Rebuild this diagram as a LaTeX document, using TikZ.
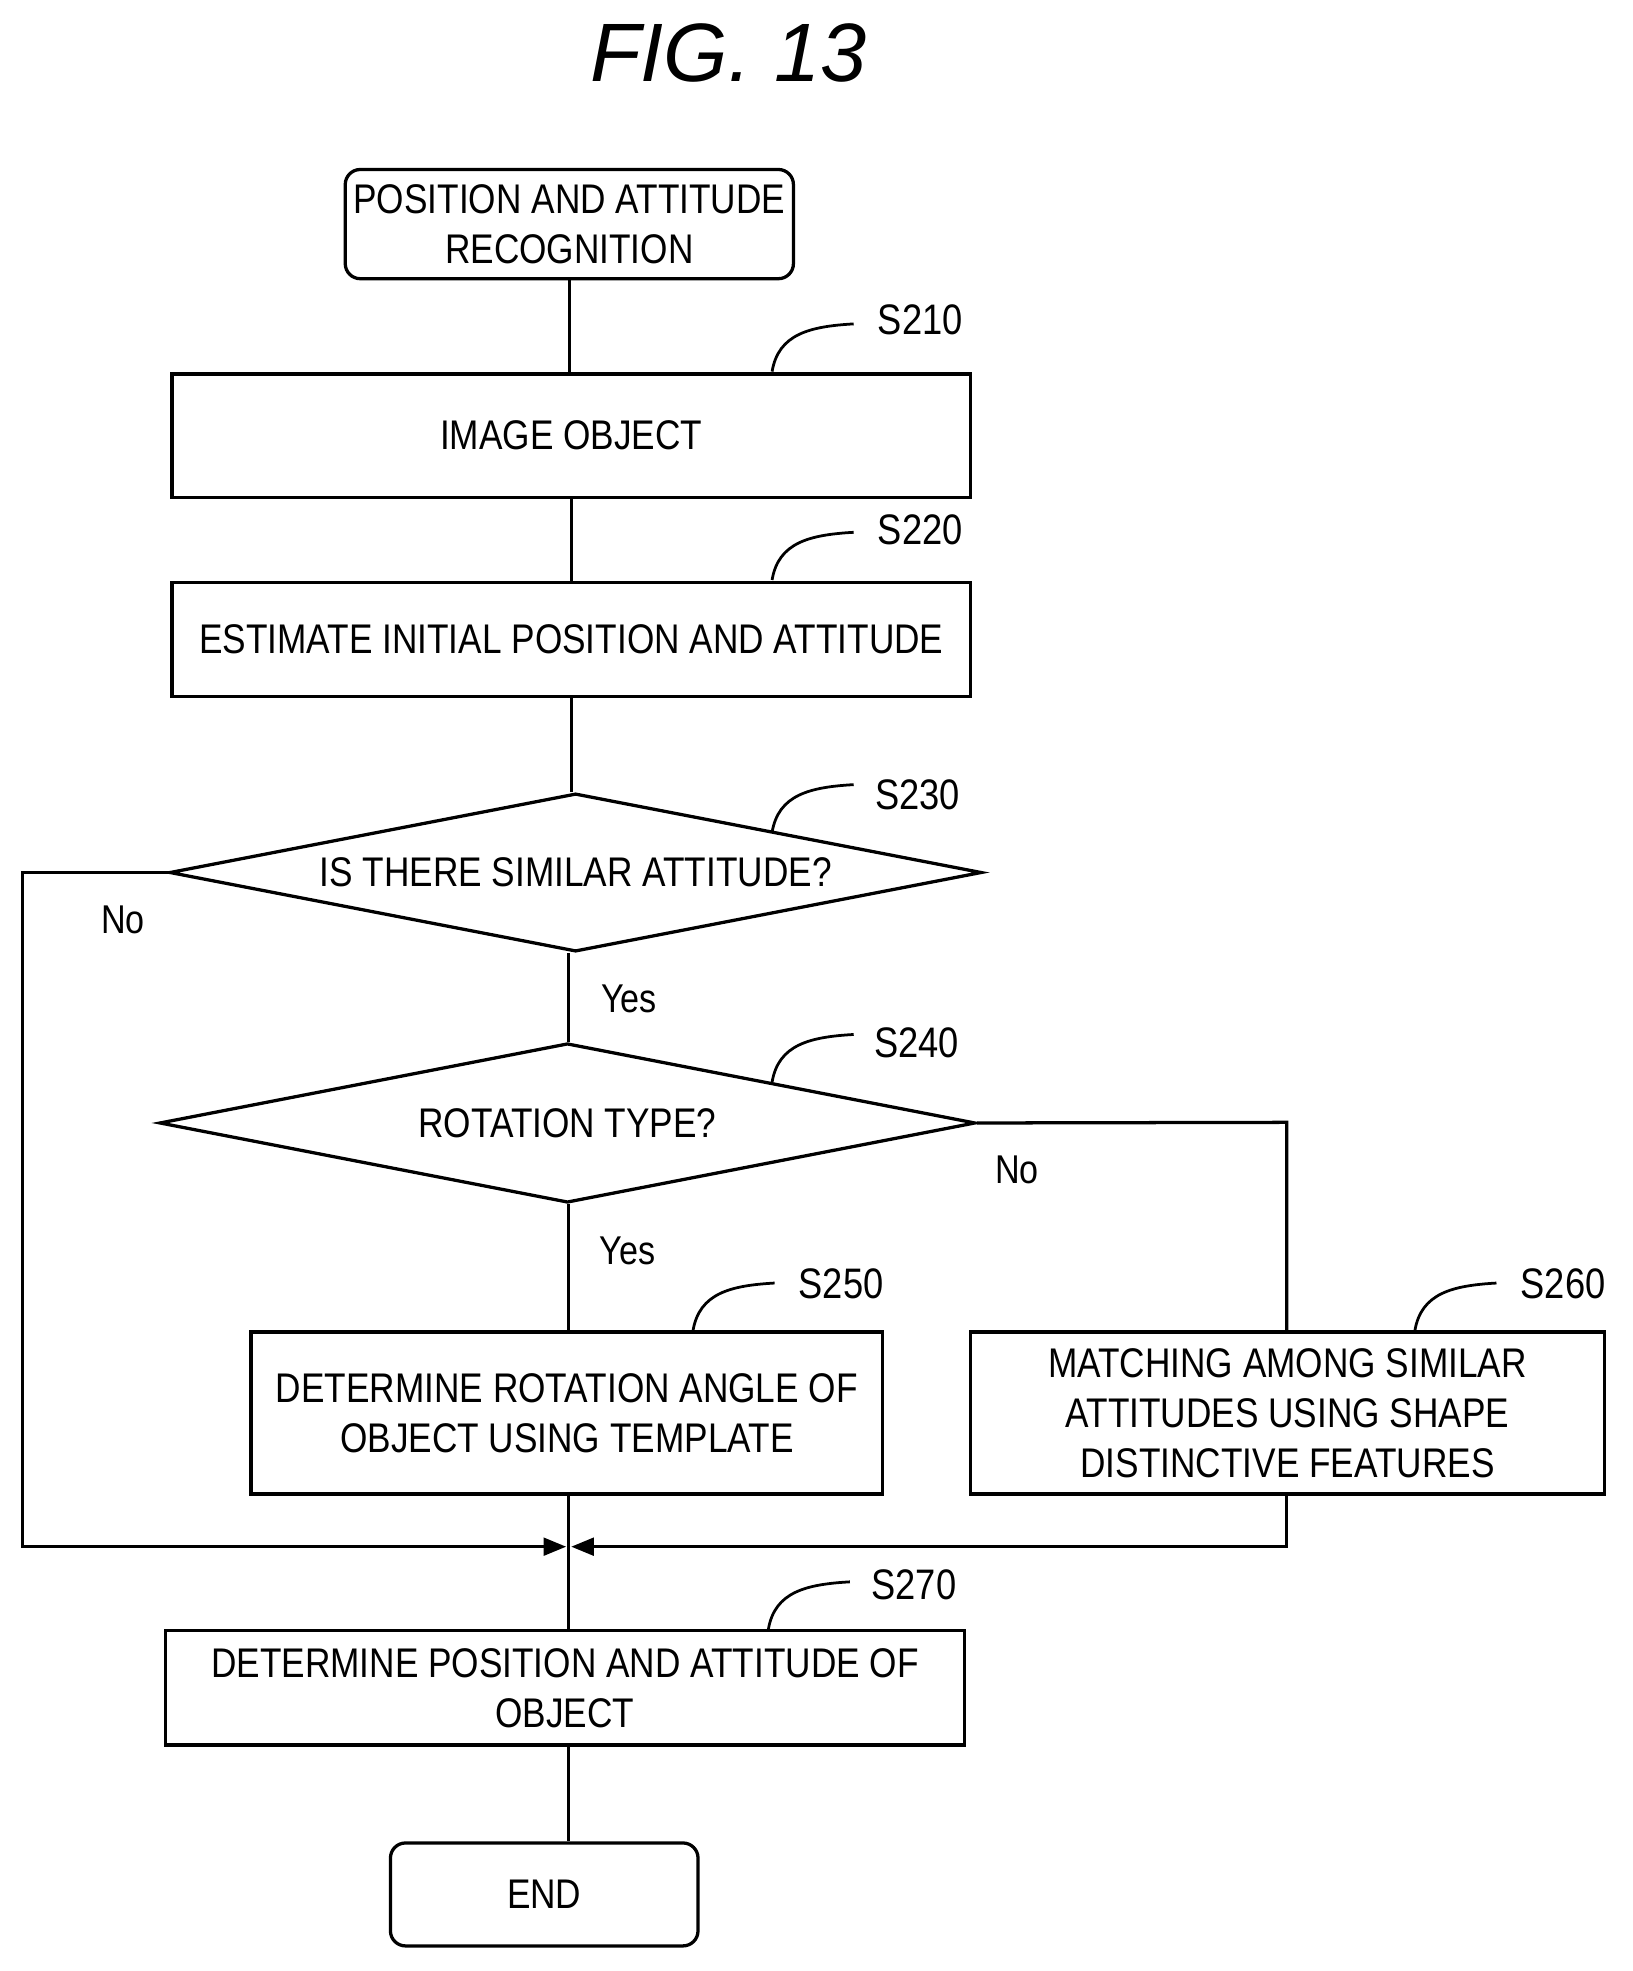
\documentclass[tikz,border=0pt]{standalone}
\usepackage{fontspec}
\setmainfont{Liberation Sans}
\newfontfamily\narrowf[FakeStretch=0.85]{Liberation Sans}
\usetikzlibrary{shapes.geometric,arrows.meta}
\begin{document}
\begin{tikzpicture}[x=1pt,y=-1pt,line width=2.6pt,
  box/.style={draw,rectangle,inner sep=0,align=center,font=\narrowf\fontsize{33}{40}\selectfont},
  term/.style={box,rounded corners=12pt},
  dia/.style={draw,diamond,inner sep=0,label={[font=\narrowf\fontsize{33}{40}\selectfont]center:#1}},
  lab/.style={font=\fontsize{32}{36}\selectfont\narrowf},
  tag/.style={font=\narrowf\fontsize{34}{36}\selectfont},
  arr/.style={-{Triangle[length=18pt,width=14pt]}}]
\useasboundingbox (0,0) rectangle (1300,1570);
\node[font=\itshape\fontsize{66}{70}\selectfont] (title) at (580,42) {FIG. 13};
\node[term,minimum width=357,minimum height=87] (start) at (453.5,178.5) {POSITION AND ATTITUDE\\RECOGNITION};
\node[box,minimum width=636,minimum height=98] (s210) at (455,347) {IMAGE OBJECT};
\node[box,minimum width=636,minimum height=91] (s220) at (455,509.5) {ESTIMATE INITIAL POSITION AND ATTITUDE};
\node[dia={IS THERE SIMILAR ATTITUDE?},minimum width=647,minimum height=126] (s230) at (458.5,695) {};
\node[dia={ROTATION TYPE?},minimum width=650,minimum height=127] (s240) at (452,894.5) {};
\node[box,minimum width=503,minimum height=129] (s250) at (451.5,1125.5) {DETERMINE ROTATION ANGLE OF\\OBJECT USING TEMPLATE};
\node[box,minimum width=505,minimum height=129] (s260) at (1025.5,1125.5) {MATCHING AMONG SIMILAR\\ATTITUDES USING SHAPE\\DISTINCTIVE FEATURES};
\node[box,minimum width=636,minimum height=91] (s270) at (450,1344.5) {DETERMINE POSITION AND ATTITUDE OF\\OBJECT};
\node[term,minimum width=245,minimum height=82] (end) at (433.5,1509) {END};
\coordinate (m) at (453,1232);
\coordinate (ml) at (18,695);
\coordinate (mr) at (1025,894);
\draw (start) -- (start.south |- s210.north);
\draw (s210) -- (s220);
\draw (s220) -- (s230.north -| s220);
\draw (s230.south -| m) -- (s240.north -| m);
\draw (s240.south -| m) -- (s250.north -| m);
\draw (s250.south -| m) -- (s270.north -| m);
\draw (s270.south -| m) -- (end.north -| m);
\draw[arr] (s230.west) -- (ml) -- (ml |- m) -- ([xshift=-2]m);
\draw (s240.east) -- (mr) -- (mr |- s260.north);
\draw[arr] (s260.south -| mr) -- (mr |- m) -- ([xshift=2]m);
\node[lab] (no1) at (98,733) {No};
\node[lab] (yes1) at (501,796) {Yes};
\node[lab] (no2) at (810,932) {No};
\node[lab] (yes2) at (500,996) {Yes};
\foreach \n/\x/\y/\tx/\ty in {210/615/296/733/255, 220/615/462/733/422, 230/615/663/731/633, 240/615/862/730/831, 250/552/1060/670/1023, 260/1127/1060/1245/1023, 270/612/1298/728/1262}{
  \node[tag] (t\n) at (\tx,\ty) {S\n};
  \draw[line width=2.2pt] (\x,\y) .. controls (\x+5,\y-30) and (\x+30,\y-36) .. (\x+65,\y-38);
}
\end{tikzpicture}
\end{document}
